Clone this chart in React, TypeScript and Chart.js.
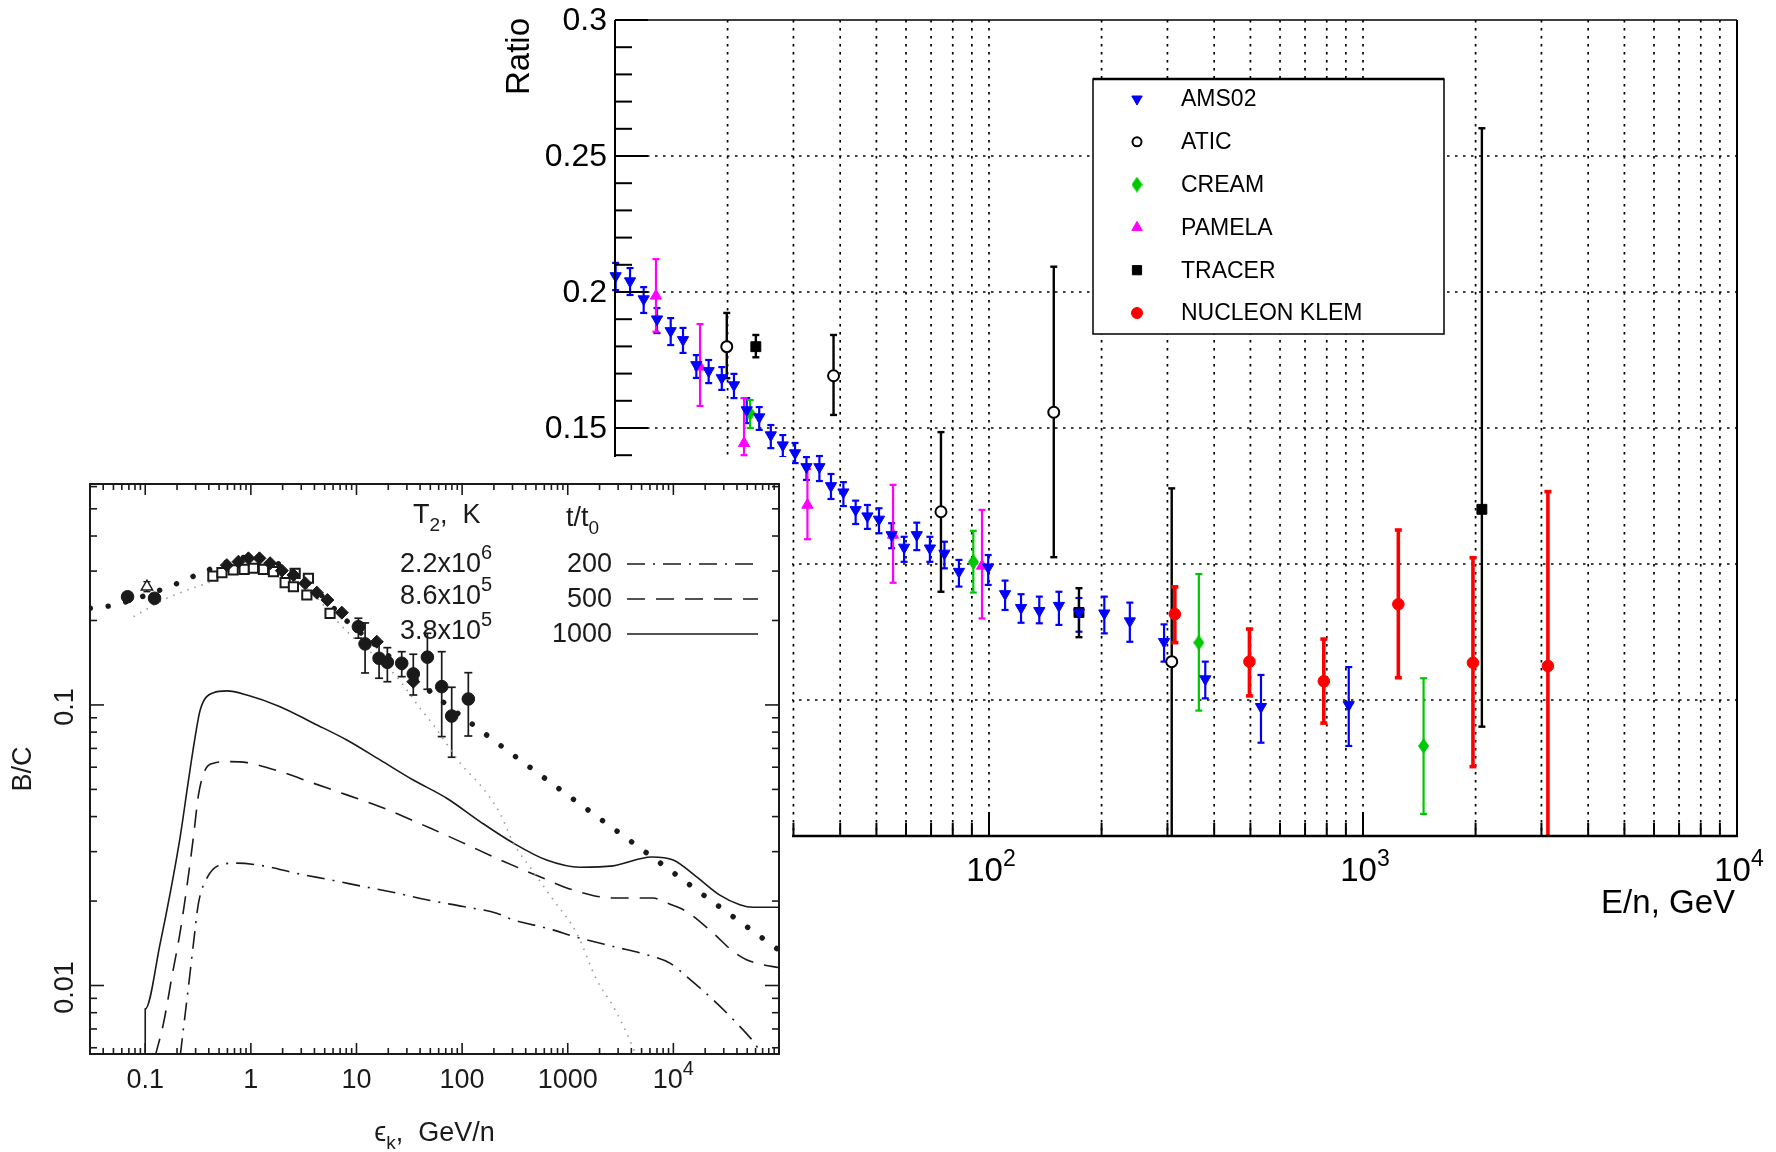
import React, { useEffect, useRef } from "react";
import { Chart, registerables } from "chart.js";
import { drawPoint } from "chart.js/helpers";

Chart.register(...registerables);

const FONT = '"Liberation Sans", Arial, Helvetica, sans-serif';
const INK = "#1a1a1a";
const BLUE = "#0000ff";
const MAGENTA = "#ff00ff";
const GREEN = "#00c800";
const RED = "#ff0000";
const BLACK = "#000000";

// ---------- main panel: secondary-to-primary ratio vs E/n ----------
const amsEnergy = [10.04, 10.97, 11.93, 12.95, 14.09, 15.2, 16.5, 17.8, 19.3, 20.8, 22.5, 24.3, 26.1, 28.1, 30.3, 32.5, 35.2, 37.8, 40.8, 44.0, 47.3, 50.8, 54.9, 59.3, 64.1, 69.5, 76.0, 83.1, 99.5, 110.4, 121.8, 136.3, 153.8, 174, 203.4, 238, 293.8, 378.7, 533.6, 916];
const amsRatio = [0.2059, 0.204, 0.1974, 0.19, 0.1857, 0.1824, 0.1732, 0.171, 0.1684, 0.1658, 0.1566, 0.154, 0.1474, 0.1437, 0.1408, 0.1357, 0.1357, 0.1287, 0.1264, 0.1199, 0.1176, 0.1164, 0.1107, 0.1061, 0.1107, 0.1058, 0.1039, 0.0972, 0.0988, 0.089, 0.0839, 0.0828, 0.0847, 0.0822, 0.0819, 0.079, 0.0714, 0.0577, 0.0475, 0.0482];
const amsLow = [0.2007, 0.1989, 0.1923, 0.1849, 0.1805, 0.1776, 0.1684, 0.1665, 0.164, 0.161, 0.1518, 0.1493, 0.1426, 0.1393, 0.1371, 0.1309, 0.1305, 0.1239, 0.1213, 0.1147, 0.1129, 0.1113, 0.1058, 0.1008, 0.1051, 0.1008, 0.0984, 0.0917, 0.0923, 0.0831, 0.0784, 0.0782, 0.0776, 0.0751, 0.0745, 0.0714, 0.0641, 0.0506, 0.0343, 0.0331];
const amsHigh = [0.2107, 0.2088, 0.2018, 0.1941, 0.1904, 0.1868, 0.1768, 0.175, 0.1724, 0.1699, 0.161, 0.1577, 0.1511, 0.1474, 0.1445, 0.1393, 0.1397, 0.1331, 0.1301, 0.1233, 0.1217, 0.1205, 0.115, 0.11, 0.1152, 0.11, 0.1082, 0.1015, 0.1033, 0.0939, 0.0889, 0.088, 0.0898, 0.0875, 0.088, 0.0858, 0.0778, 0.0641, 0.0592, 0.0621];

const aticEnergy = [19.9, 38.4, 74.4, 149, 308];
const aticRatio = [0.1799, 0.1692, 0.1192, 0.1558, 0.0641];
const aticLow = [0.1683, 0.1548, 0.0898, 0.1025, 0.0];
const aticHigh = [0.1923, 0.1842, 0.1485, 0.2093, 0.1278];

const creamEnergy = [22.97, 90.8, 364, 1452];
const creamRatio = [0.1554, 0.1008, 0.0711, 0.0331];
const creamLow = [0.15, 0.0895, 0.0461, 0.0081];
const creamHigh = [0.1603, 0.1122, 0.0963, 0.058];

const pamelaEnergy = [12.87, 16.88, 22.13, 32.7, 55.4, 95.8];
const pamelaRatio = [0.1986, 0.1725, 0.1444, 0.1217, 0.1107, 0.0993];
const pamelaLow = [0.1854, 0.1581, 0.14, 0.1091, 0.0931, 0.08];
const pamelaHigh = [0.2121, 0.1882, 0.161, 0.1349, 0.1291, 0.1199];

const tracerEnergy = [23.8, 174, 2079];
const tracerRatio = [0.1799, 0.0822, 0.1201];
const tracerLow = [0.176, 0.0731, 0.0402];
const tracerHigh = [0.1842, 0.0911, 0.2602];

const nucleonEnergy = [314, 497, 785.6, 1243, 1968, 3122];
const nucleonRatio = [0.0816, 0.0641, 0.0569, 0.0852, 0.0637, 0.0625];
const nucleonLow = [0.0711, 0.0515, 0.0415, 0.0582, 0.0255, 0.0];
const nucleonHigh = [0.0916, 0.0761, 0.0724, 0.1125, 0.1023, 0.1266];

const mainYTicks = [0, 0.05, 0.1, 0.15, 0.2, 0.25, 0.3];
const mainYTickLabels = ["0", "0.05", "0.1", "0.15", "0.2", "0.25", "0.3"];
const mainXTicks = [10, 100, 1000, 10000];
const mainXTickExps = ["1", "2", "3", "4"];

// ---------- inset: B/C vs kinetic energy per nucleon ----------
const inCircE = [0.068, 0.1225, 10.42, 12.06, 16.36, 19.6, 26.8, 34.5, 46.9, 64.1, 79.7, 114.5];
const inCircBC = [0.243, 0.24, 0.19, 0.165, 0.1467, 0.1419, 0.1408, 0.129, 0.148, 0.1162, 0.0913, 0.105];
const inCircLow = [null, null, 0.173, 0.13, 0.1245, 0.121, 0.1261, 0.1085, 0.1137, 0.0771, 0.0651, 0.0775];
const inCircHigh = [null, null, 0.2037, 0.196, 0.168, 0.16, 0.1548, 0.1516, 0.18, 0.1548, 0.1156, 0.1303];

const inDiaE = [0.593, 0.763, 0.949, 1.206, 1.522, 1.965, 2.529, 3.264, 4.21, 5.305, 7.26, 15.56, 34.5];
const inDiaBC = [0.315, 0.324, 0.333, 0.333, 0.32, 0.301, 0.2905, 0.2715, 0.2513, 0.2366, 0.2133, 0.168, 0.121];

const inSqE = [0.437, 0.532, 0.68, 0.864, 1.058, 1.316, 1.636, 2.111, 2.625, 2.529, 3.508, 3.387, 5.62];
const inSqBC = [0.288, 0.296, 0.303, 0.304, 0.307, 0.304, 0.2985, 0.2727, 0.2945, 0.2638, 0.2828, 0.2465, 0.212];

const inTriE = [0.1038];
const inTriBC = [0.264];
const inTriLow = [0.2533];
const inTriHigh = [0.275];

const inFitE = [0.0302, 0.0509, 0.0835, 0.2034, 0.3155, 1.0, 3.0, 8.0, 20, 59.5, 127.4, 183.7, 874, 4166, 20170, 96800];
const inFitBC = [0.221, 0.227, 0.24, 0.2715, 0.292, 0.337, 0.285, 0.2, 0.15, 0.1057, 0.0849, 0.0765, 0.0495, 0.0322, 0.02076, 0.01348];

const inGrayE = [0.0775, 0.1604, 0.3835, 0.917, 3.0, 8.09, 24, 40, 53.4, 99.1, 147.7, 228.4, 305, 436, 729, 1214, 1877, 2695, 3608, 4487];
const inGrayBC = [0.2064, 0.24, 0.2715, 0.303, 0.27, 0.183, 0.126, 0.0973, 0.0849, 0.0611, 0.0519, 0.0411, 0.0322, 0.0265, 0.0202, 0.01537, 0.01048, 0.00842, 0.00677, 0.0056];

const inSolidE = [0.1, 0.1, 0.1387, 0.1723, 0.2144, 0.2568, 0.2972, 0.3314, 0.4428, 0.593, 0.917, 1.893, 3.91, 8.09, 16.7, 34.5, 71.5, 147.7, 305, 631, 1304, 2695, 6220, 9950, 16580, 27540, 42570, 56900, 98000];
const inSolidBC = [0.0055, 0.00824, 0.01416, 0.02134, 0.03395, 0.054, 0.0771, 0.096, 0.1106, 0.1122, 0.1085, 0.0986, 0.0861, 0.075, 0.0637, 0.054, 0.0465, 0.0384, 0.0322, 0.028, 0.0264, 0.0267, 0.0287, 0.028, 0.0244, 0.021, 0.0194, 0.019, 0.019];

const inDashE = [0.1243, 0.149, 0.179, 0.2144, 0.248, 0.2864, 0.3193, 0.3696, 0.4428, 0.637, 0.917, 1.893, 3.91, 8.09, 16.7, 49.7, 102.7, 212.5, 546, 1127, 2695, 6440, 8008, 13330, 23800, 36800, 49270, 70730, 98000];
const inDashBC = [0.0056, 0.00734, 0.01076, 0.01557, 0.02253, 0.034, 0.0478, 0.0587, 0.062, 0.0628, 0.0623, 0.0579, 0.0526, 0.0478, 0.0434, 0.0364, 0.0322, 0.0284, 0.0244, 0.0219, 0.0205, 0.0205, 0.0199, 0.01835, 0.01537, 0.01322, 0.01235, 0.01186, 0.0116];

const inDashDotE = [0.2144, 0.2303, 0.2568, 0.2864, 0.3193, 0.3835, 0.5124, 0.7372, 1.316, 2.724, 5.626, 11.62, 24.06, 49.7, 102.7, 212.5, 305, 631, 1304, 2695, 5579, 9267, 13330, 23800, 39630, 56900, 70730];
const inDashDotBC = [0.0056, 0.00705, 0.00992, 0.01416, 0.01966, 0.02413, 0.0269, 0.0273, 0.0267, 0.0251, 0.0238, 0.02253, 0.02134, 0.0201, 0.01912, 0.0181, 0.01714, 0.01601, 0.01476, 0.01377, 0.01287, 0.01202, 0.01076, 0.00889, 0.00735, 0.00632, 0.0056];

const inXTicks = [0.1, 1, 10, 100, 1000, 10000];
const inXTickLabels = ["0.1", "1", "10", "100", "1000", "10"];
const inXTickExps = ["", "", "", "", "", "4"];
const inYTicks = [0.01, 0.1];
const inYTickLabels = ["0.01", "0.1"];

const tempLabels = [["2.2x10", "6"], ["8.6x10", "5"], ["3.8x10", "5"]];
const timeLabels = ["200", "500", "1000"];

// ---------- drawing helpers ----------
type Part = { t: string; size: number; dy: number };

function line(ctx: CanvasRenderingContext2D, x1: number, y1: number, x2: number, y2: number) {
  ctx.beginPath();
  ctx.moveTo(x1, y1);
  ctx.lineTo(x2, y2);
  ctx.stroke();
}

function drawParts(ctx: CanvasRenderingContext2D, parts: Part[], x: number, y: number, align: string) {
  const widths = parts.map((p) => {
    ctx.font = `${p.size}px ${FONT}`;
    return ctx.measureText(p.t).width;
  });
  const total = widths.reduce((s, w) => s + w, 0);
  let cx = align === "center" ? x - total / 2 : align === "right" ? x - total : x;
  ctx.textAlign = "left";
  ctx.textBaseline = "alphabetic";
  parts.forEach((p, i) => {
    ctx.font = `${p.size}px ${FONT}`;
    ctx.fillText(p.t, cx, y + p.dy);
    cx += widths[i];
  });
}

function logTicks(e0: number, e1: number, lo: number, hi: number) {
  const out: { v: number; major: boolean }[] = [];
  for (let e = e0; e <= e1; e++) {
    for (let m = 1; m <= 9; m++) {
      const v = m * Math.pow(10, e);
      if (v > lo * 1.0001 && v < hi / 1.0001) out.push({ v, major: m === 1 });
    }
  }
  return out;
}

function drawErrorBars(chart: any) {
  const { ctx, chartArea: a, scales } = chart;
  const y = scales.y;
  chart.data.datasets.forEach((ds: any, i: number) => {
    if (!ds.errLow) return;
    const meta = chart.getDatasetMeta(i);
    ctx.save();
    ctx.strokeStyle = ds.errColor;
    ctx.lineWidth = ds.errWidth;
    ctx.setLineDash([]);
    ds.data.forEach((_: any, j: number) => {
      const lo = ds.errLow[j];
      const hi = ds.errHigh[j];
      if (lo == null || hi == null) return;
      const px = meta.data[j].x;
      let top = y.getPixelForValue(hi);
      let bot = lo > 0 ? y.getPixelForValue(lo) : a.bottom + 10;
      const capTop = top > a.top;
      const capBot = bot < a.bottom - 0.5;
      top = Math.max(top, a.top);
      bot = Math.min(bot, a.bottom);
      line(ctx, px, top, px, bot);
      const c = ds.errCap;
      if (capTop) line(ctx, px - c, top, px + c, top);
      if (capBot) line(ctx, px - c, bot, px + c, bot);
    });
    ctx.restore();
  });
}

function makeDiamond(w: number, h: number, color: string) {
  const c = document.createElement("canvas");
  c.width = w;
  c.height = h;
  const g = c.getContext("2d")!;
  g.fillStyle = color;
  g.beginPath();
  g.moveTo(w / 2, 0);
  g.lineTo(w, h / 2);
  g.lineTo(w / 2, h);
  g.lineTo(0, h / 2);
  g.closePath();
  g.fill();
  return c;
}

function series(label: string, xs: number[], ys: number[], lo: any[] | null, hi: any[] | null, style: any) {
  return { label, data: xs.map((x, i) => ({ x, y: ys[i] })), errLow: lo, errHigh: hi, ...style };
}

// ---------- main panel decorations ----------
const mainDecor = {
  id: "mainDecor",
  beforeDatasetsDraw(chart: any) {
    const { ctx, chartArea: a, scales } = chart;
    const { x, y } = scales;
    ctx.save();
    ctx.strokeStyle = BLACK;
    ctx.lineWidth = 1.7;
    ctx.setLineDash([2.5, 5.5]);
    logTicks(1, 3, 10, 10000).forEach((t) => {
      const px = x.getPixelForValue(t.v);
      line(ctx, px, a.top, px, a.bottom);
    });
    mainYTicks.forEach((v) => {
      if (v > 0 && v < 0.3) {
        const py = y.getPixelForValue(v);
        line(ctx, a.left, py, a.right, py);
      }
    });
    ctx.setLineDash([]);
    ctx.restore();
    drawErrorBars(chart);
  },
  afterDatasetsDraw(chart: any) {
    const { ctx, chartArea: a, scales } = chart;
    const { x, y } = scales;
    ctx.save();
    ctx.strokeStyle = BLACK;
    ctx.setLineDash([]);
    // frame
    ctx.lineWidth = 1.5;
    line(ctx, a.left, a.top, a.right, a.top);
    ctx.lineWidth = 2;
    line(ctx, a.right, a.top, a.right, a.bottom);
    line(ctx, a.left, a.top, a.left, a.bottom);
    ctx.lineWidth = 2.6;
    line(ctx, a.left - 1, a.bottom, a.right + 1, a.bottom);
    // left axis ticks
    ctx.lineWidth = 2;
    for (let i = 0; i <= 30; i++) {
      const py = y.getPixelForValue(i / 100);
      line(ctx, a.left, py, a.left + (i % 5 === 0 ? 33 : 17), py);
    }
    // bottom axis ticks
    logTicks(1, 3, 10, 10000).forEach((t) => {
      const px = x.getPixelForValue(t.v);
      line(ctx, px, a.bottom, px, a.bottom - (t.major ? 24 : 13));
    });
    // tick labels
    ctx.fillStyle = BLACK;
    ctx.font = `32px ${FONT}`;
    ctx.textAlign = "right";
    ctx.textBaseline = "middle";
    mainYTicks.forEach((v, i) => ctx.fillText(mainYTickLabels[i], a.left - 8, y.getPixelForValue(v) + 1));
    mainXTicks.forEach((v, i) => {
      drawParts(ctx, [{ t: "10", size: 33, dy: 0 }, { t: mainXTickExps[i], size: 23, dy: -15 }], x.getPixelForValue(v) + 2, a.bottom + 45, "center");
    });
    // axis titles
    ctx.font = `33px ${FONT}`;
    ctx.textAlign = "right";
    ctx.textBaseline = "middle";
    ctx.fillText("E/n, GeV", a.right - 2, a.bottom + 68);
    ctx.save();
    ctx.translate(520, a.top - 2);
    ctx.rotate(-Math.PI / 2);
    ctx.textAlign = "right";
    ctx.fillText("Ratio", 0, 0);
    ctx.restore();
    // legend
    const lx = 1093, ly = 79, lw = 351, lh = 255;
    ctx.fillStyle = "#ffffff";
    ctx.fillRect(lx, ly, lw, lh);
    ctx.lineWidth = 1.5;
    ctx.strokeRect(lx, ly, lw, lh);
    ctx.lineWidth = 2.5;
    line(ctx, lx, ly, lx + lw, ly);
    chart.data.datasets.forEach((ds: any, i: number) => {
      const ry = ly + 20 + i * 42.8;
      ctx.save();
      ctx.fillStyle = ds.pointBackgroundColor;
      ctx.strokeStyle = ds.pointBorderColor;
      ctx.lineWidth = ds.pointBorderWidth;
      drawPoint(ctx, { pointStyle: ds.pointStyle, rotation: ds.pointRotation || 0, radius: ds.legendRadius, borderWidth: ds.pointBorderWidth }, lx + 44, ry);
      ctx.restore();
      ctx.fillStyle = BLACK;
      ctx.font = `23px ${FONT}`;
      ctx.textAlign = "left";
      ctx.textBaseline = "middle";
      ctx.fillText(ds.label, lx + 88, ry + 1);
    });
    ctx.restore();
  },
};

// ---------- inset decorations ----------
const insetDecor = {
  id: "insetDecor",
  beforeDatasetsDraw(chart: any) {
    const { ctx } = chart;
    ctx.save();
    ctx.fillStyle = INK;
    ctx.strokeStyle = INK;
    drawParts(ctx, [{ t: "T", size: 27, dy: 0 }, { t: "2", size: 19, dy: 8 }, { t: ",  K", size: 27, dy: 0 }], 413, 66, "left");
    drawParts(ctx, [{ t: "t/t", size: 27, dy: 0 }, { t: "0", size: 19, dy: 8 }], 566, 69, "left");
    const rowY = [105, 137, 172];
    tempLabels.forEach((p, i) => {
      drawParts(ctx, [{ t: p[0], size: 27, dy: 0 }, { t: p[1], size: 20, dy: -13 }], 400, rowY[i] + 10, "left");
    });
    const timeY = [105, 140, 175];
    const lineDs = [8, 7, 6];
    timeLabels.forEach((t, i) => {
      drawParts(ctx, [{ t, size: 27, dy: 0 }], 612, timeY[i] + 10, "right");
      const ds = chart.data.datasets[lineDs[i]];
      ctx.save();
      ctx.strokeStyle = ds.borderColor;
      ctx.lineWidth = ds.borderWidth;
      ctx.setLineDash(ds.borderDash || []);
      line(ctx, 627, timeY[i] + 2, 758, timeY[i] + 2);
      ctx.restore();
    });
    ctx.restore();
    drawErrorBars(chart);
  },
  afterDatasetsDraw(chart: any) {
    const { ctx, chartArea: a, scales } = chart;
    const { x, y } = scales;
    ctx.save();
    ctx.strokeStyle = INK;
    ctx.fillStyle = INK;
    ctx.setLineDash([]);
    ctx.lineWidth = 1.6;
    logTicks(-2, 4, 0.03, 1e5).forEach((t) => {
      const px = x.getPixelForValue(t.v);
      const len = t.major ? 11 : 6;
      line(ctx, px, a.bottom, px, a.bottom - len);
      line(ctx, px, a.top, px, a.top + len);
    });
    logTicks(-3, -1, 0.0057, 0.613).forEach((t) => {
      const py = y.getPixelForValue(t.v);
      const len = t.major ? 14 : 7;
      line(ctx, a.left, py, a.left + len, py);
      line(ctx, a.right, py, a.right - len, py);
    });
    ctx.lineWidth = 2;
    ctx.strokeRect(a.left, a.top, a.right - a.left, a.bottom - a.top);
    // tick labels
    inXTicks.forEach((v, i) => {
      const parts: Part[] = [{ t: inXTickLabels[i], size: 27, dy: 0 }];
      if (inXTickExps[i]) parts.push({ t: inXTickExps[i], size: 20, dy: -13 });
      drawParts(ctx, parts, x.getPixelForValue(v), a.bottom + 34, "center");
    });
    ctx.font = `27px ${FONT}`;
    ctx.textAlign = "center";
    ctx.textBaseline = "middle";
    inYTicks.forEach((v, i) => {
      ctx.save();
      ctx.translate(66, y.getPixelForValue(v) + 2);
      ctx.rotate(-Math.PI / 2);
      ctx.fillText(inYTickLabels[i], 0, 0);
      ctx.restore();
    });
    ctx.save();
    ctx.translate(24, (a.top + a.bottom) / 2);
    ctx.rotate(-Math.PI / 2);
    ctx.fillText("B/C", 0, 0);
    ctx.restore();
    drawParts(ctx, [{ t: "\u03f5", size: 27, dy: 0 }, { t: "k", size: 19, dy: 8 }, { t: ",  GeV/n", size: 27, dy: 0 }], (a.left + a.right) / 2, 684, "center");
    ctx.restore();
  },
};

function mainConfig(): any {
  const diamond = makeDiamond(11, 16, GREEN);
  const datasets = [
    series("AMS02", amsEnergy, amsRatio, amsLow, amsHigh, {
      pointStyle: "triangle", pointRotation: 180, pointRadius: 6.5, legendRadius: 6,
      pointBackgroundColor: BLUE, pointBorderColor: BLUE, pointBorderWidth: 1,
      errColor: BLUE, errWidth: 2.2, errCap: 3.5,
    }),
    series("ATIC", aticEnergy, aticRatio, aticLow, aticHigh, {
      pointStyle: "circle", pointRadius: 5.5, legendRadius: 4.5,
      pointBackgroundColor: "#ffffff", pointBorderColor: BLACK, pointBorderWidth: 2,
      errColor: BLACK, errWidth: 2.4, errCap: 3.5,
    }),
    series("CREAM", creamEnergy, creamRatio, creamLow, creamHigh, {
      pointStyle: diamond, pointRadius: 8, legendRadius: 8,
      pointBackgroundColor: GREEN, pointBorderColor: GREEN, pointBorderWidth: 0,
      errColor: GREEN, errWidth: 2.2, errCap: 3.5,
    }),
    series("PAMELA", pamelaEnergy, pamelaRatio, pamelaLow, pamelaHigh, {
      pointStyle: "triangle", pointRadius: 6.5, legendRadius: 6,
      pointBackgroundColor: MAGENTA, pointBorderColor: MAGENTA, pointBorderWidth: 1,
      errColor: MAGENTA, errWidth: 2.2, errCap: 3.5,
    }),
    series("TRACER", tracerEnergy, tracerRatio, tracerLow, tracerHigh, {
      pointStyle: "rect", pointRadius: 7, legendRadius: 6.5,
      pointBackgroundColor: BLACK, pointBorderColor: BLACK, pointBorderWidth: 1,
      errColor: BLACK, errWidth: 2.4, errCap: 3.5,
    }),
    series("NUCLEON KLEM", nucleonEnergy, nucleonRatio, nucleonLow, nucleonHigh, {
      pointStyle: "circle", pointRadius: 5.8, legendRadius: 5.5,
      pointBackgroundColor: RED, pointBorderColor: RED, pointBorderWidth: 1,
      errColor: RED, errWidth: 3.6, errCap: 3.5,
    }),
  ].map((d) => ({ ...d, showLine: false, clip: false, pointHoverRadius: d.pointRadius }));
  return {
    type: "scatter",
    data: { datasets },
    options: {
      animation: false,
      responsive: false,
      events: [],
      layout: { padding: { left: 615, top: 20, right: 39, bottom: 316 } },
      plugins: { legend: { display: false }, tooltip: { enabled: false } },
      scales: {
        x: { type: "logarithmic", min: 10, max: 10000, display: false },
        y: { type: "linear", min: 0, max: 0.3, display: false },
      },
    },
    plugins: [mainDecor],
  };
}

function insetConfig(): any {
  const curve = (label: string, xs: number[], ys: number[], style: any) => ({
    ...series(label, xs, ys, null, null, {}),
    showLine: true, pointRadius: 0, cubicInterpolationMode: "monotone", order: 1,
    borderColor: INK, ...style,
  });
  const datasets = [
    series("data", inCircE, inCircBC, inCircLow, inCircHigh, {
      pointStyle: "circle", pointRadius: 6.3, pointBackgroundColor: INK, pointBorderColor: INK, pointBorderWidth: 1,
      errColor: INK, errWidth: 1.7, errCap: 4, order: 0,
    }),
    series("data", inDiaE, inDiaBC, null, null, {
      pointStyle: "rectRot", pointRadius: 6.5, pointBackgroundColor: INK, pointBorderColor: INK, pointBorderWidth: 1, order: 0,
    }),
    series("data", inSqE, inSqBC, null, null, {
      pointStyle: "rect", pointRadius: 6.5, pointBackgroundColor: "#ffffff", pointBorderColor: INK, pointBorderWidth: 2, order: 0,
    }),
    series("data", inTriE, inTriBC, inTriLow, inTriHigh, {
      pointStyle: "triangle", pointRadius: 6.5, pointBackgroundColor: "#ffffff", pointBorderColor: INK, pointBorderWidth: 1.5,
      errColor: INK, errWidth: 1.4, errCap: 3.5, order: 0,
    }),
    curve("fit", inFitE, inFitBC, { borderWidth: 5.5, borderDash: [0.01, 18], borderCapStyle: "round" }),
    curve("primary", inGrayE, inGrayBC, { borderWidth: 1.6, borderDash: [1.5, 6], borderColor: "#9a9a9a" }),
    curve("1000", inSolidE, inSolidBC, { borderWidth: 1.6 }),
    curve("500", inDashE, inDashBC, { borderWidth: 1.6, borderDash: [18, 11] }),
    curve("200", inDashDotE, inDashDotBC, { borderWidth: 1.6, borderDash: [18, 8, 2, 8] }),
  ].map((d: any) => ({ ...d, pointHoverRadius: d.pointRadius }));
  return {
    type: "scatter",
    data: { datasets },
    options: {
      animation: false,
      responsive: false,
      events: [],
      layout: { padding: { left: 90, top: 27, right: 13, bottom: 98 } },
      plugins: { legend: { display: false }, tooltip: { enabled: false } },
      scales: {
        x: { type: "logarithmic", min: 0.03, max: 1e5, display: false },
        y: { type: "logarithmic", min: 0.0057, max: 0.613, display: false },
      },
    },
    plugins: [insetDecor],
  };
}

export default function App() {
  const mainRef = useRef<HTMLCanvasElement>(null);
  const insetRef = useRef<HTMLCanvasElement>(null);
  useEffect(() => {
    const main = new Chart(mainRef.current as HTMLCanvasElement, mainConfig());
    const inset = new Chart(insetRef.current as HTMLCanvasElement, insetConfig());
    return () => {
      main.destroy();
      inset.destroy();
    };
  }, []);
  return (
    <div style={{ position: "absolute", left: 0, top: 0, width: 1776, height: 1152, background: "#ffffff", overflow: "hidden" }}>
      <canvas ref={mainRef} width={1776} height={1152} style={{ position: "absolute", left: 0, top: 0, width: 1776, height: 1152 }} />
      <div style={{ position: "absolute", left: 0, top: 457, width: 792, height: 695, background: "#ffffff" }}>
        <canvas ref={insetRef} width={792} height={695} style={{ width: 792, height: 695, display: "block", filter: "blur(0.4px)" }} />
      </div>
    </div>
  );
}
